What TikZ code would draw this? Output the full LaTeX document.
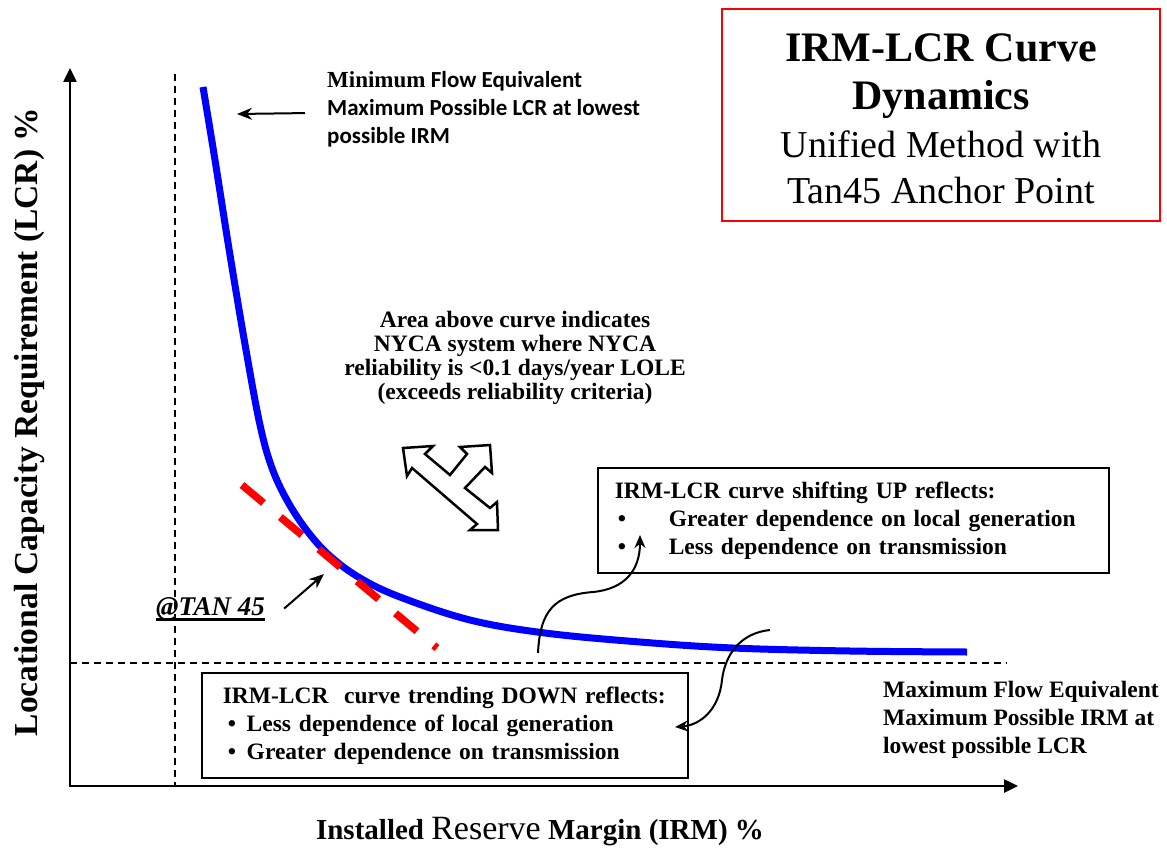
\documentclass[tikz,border=0pt]{standalone}
\usepackage{fontspec}
\setmainfont{Liberation Serif}
\newfontfamily\calibri{Carlito}
\usetikzlibrary{arrows.meta, positioning}

\begin{document}
\begin{tikzpicture}[x=1pt, y=-1pt, inner sep=0pt,
		txt/.style={font=\bfseries\fontsize{23.5}{28}\selectfont, align=left},
		notebox/.style={draw, line width=1.5pt, inner xsep=#1, minimum height=105pt, anchor=north west, txt}]
	\useasboundingbox (0,0) rectangle (1167,848);
	
	\coordinate (O) at (70,786);
	\coordinate (ytip) at (70,68);
	\coordinate (xtip) at (1018,786);
	
	% guide lines
	\begin{scope}[line width=1.3pt, dash pattern=on 7pt off 5pt]
	\draw (175,74) -- (175,786);
	\draw (70,663) -- (1007,663);
	\end{scope}
	
	\draw[line width=2.5pt, {Triangle[length=14pt,width=13pt]}-{Triangle[length=14pt,width=13pt]}] (ytip) -- (O) -- (xtip);
	
	% IRM-LCR curve and tangent
	\draw[blue, line width=7pt] plot[smooth, tension=0.6] coordinates {(203,87) (215,160) (230,255) (246,350) (260,425) (272,468) (288,502) (308,532) (330,556) (360,578) (400,597) (470,620) (545,633) (640,642) (733,648) (850,651) (967,652)};
	\draw[red, line width=7.5pt, dash pattern=on 28pt off 22pt] (242,485) -- (437,648);
	
	% three-way arrow
	\draw[line width=2.5pt, fill=white, line join=miter] (403,448) -- (433,446) -- (425,454) -- (450,475) -- (467,454) -- (460,447) -- (490,445) -- (492,473) -- (485,467) -- (465,488) -- (490,508) -- (497,502) -- (498,530) -- (470,530) -- (477,524) -- (412,468) -- (407,476) -- cycle;
	
	% labels
	\node (titlebox) [draw=red, line width=2.5pt, minimum width=438pt, minimum height=212pt] at (941,115) {};
	\node (title) [anchor=north, align=center, font=\bfseries\fontsize{42}{48}\selectfont] at (941,33) {IRM-LCR Curve\\Dynamics};
	\node (subtitle) [below=12pt of title, align=center, font=\fontsize{38}{46}\selectfont] {Unified Method with\\Tan45 Anchor Point};
	
	\node (minflow) [anchor=north west, align=left, font=\calibri\bfseries\fontsize{23}{28}\selectfont] at (327,71) {{\rmfamily Minimum} Flow Equivalent\\Maximum Possible LCR at lowest\\possible IRM};
	\node (area) [anchor=north, align=center, font=\bfseries\fontsize{23.5}{24}\selectfont] at (515,311) {Area above curve indicates\\NYCA system where NYCA\\reliability is <0.1 days/year LOLE\\(exceeds reliability criteria)};
	\node (maxflow) [anchor=north west, txt] at (883,681) {Maximum Flow Equivalent\\Maximum Possible IRM at\\lowest possible LCR};
	
	\node (upbox) [notebox=17pt, text width=477pt] at (597,467) {IRM-LCR curve shifting UP reflects:\\
		\hspace*{3pt}\makebox[51pt][l]{\textbullet}Greater dependence on local generation\\
		\hspace*{3pt}\makebox[51pt][l]{\textbullet}Less dependence on transmission};
	\node (downbox) [notebox=21pt, text width=444pt] at (201,672) {IRM-LCR\ \ curve trending DOWN reflects:\\
		\hspace*{5pt}\makebox[19pt][l]{\textbullet}Less dependence of local generation\\
		\hspace*{5pt}\makebox[19pt][l]{\textbullet}Greater dependence on transmission};
	
	\node (tan) [anchor=base west, font=\bfseries\itshape\fontsize{27}{32}\selectfont] at (156,615) {@TAN 45};
	\draw[line width=2.5pt] ([yshift=-4.5pt]tan.base west) -- ([yshift=-4.5pt]tan.base east);
	
	\node (xlabel) [anchor=base, font=\bfseries\fontsize{29}{34}\selectfont] at (540,839) {Installed {\mdseries\fontsize{34}{40}\selectfont Reserve} Margin (IRM) \%};
	\node (ylabel) [anchor=base, rotate=90, font=\bfseries\fontsize{33.5}{40}\selectfont] at (37,422) {Locational Capacity Requirement (LCR) \%};
	
	% pointers
	\coordinate (curvetop) at (237,114);
	\coordinate (tanpt) at (324,574);
	\coordinate (upfrom) at (538,653);
	\coordinate (upto) at (640,535);
	\coordinate (downfrom) at (770,630);
	\coordinate (downto) at (675,727);
	
	\begin{scope}[line width=2pt, -{Stealth[length=15pt,width=12pt]}]
	\draw ([shift={(-22pt,-4pt)}]minflow.west) -- (curvetop);
	\draw ([xshift=19pt]tan.east) -- (tanpt);
	\end{scope}
	
	\begin{scope}[line width=2pt, -{Stealth[length=13pt,width=11pt]}]
	\draw (upfrom) .. controls (540,610) and (555,595) .. (593,592) .. controls (625,589) and (640,570) .. (upto);
	\draw (downfrom) .. controls (740,633) and (725,655) .. (722,680) .. controls (719,710) and (700,725) .. (downto);
	\end{scope}
\end{tikzpicture}
\end{document}
